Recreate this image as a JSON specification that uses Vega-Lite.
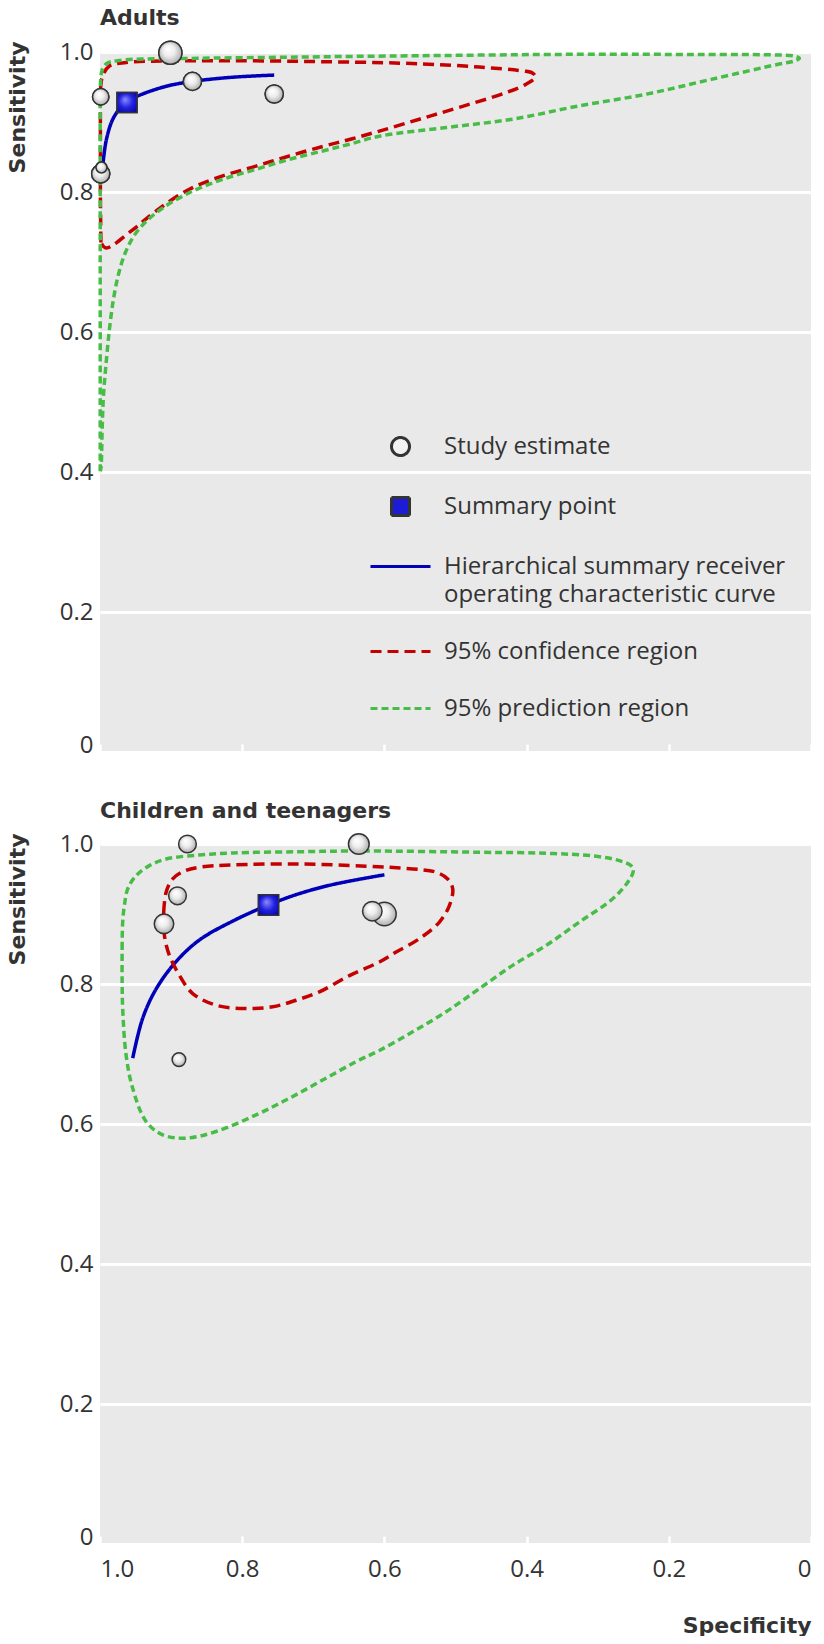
{
  "$schema": "https://vega.github.io/schema/vega-lite/v6.json",
  "background": "white",
  "padding": {"left": 6, "top": 7, "right": 0, "bottom": 0},
  "spacing": 42,
  "config": {
    "view": {"stroke": null, "fill": "#e9e9e9"},
    "font": "Open Sans",
    "style": {"guide-label": {"lineHeight": 28}},
    "axis": {"labelFont": "Open Sans", "labelFontSize": 24, "labelColor": "#333333", "titleFont": "DejaVu Sans", "titleFontSize": 22, "titleFontWeight": "bold", "titleColor": "#333333", "domain": false},
    "title": {"font": "DejaVu Sans", "fontSize": 22, "fontWeight": "bold", "color": "#333333", "anchor": "start", "frame": "group", "offset": 8}
  },
  "resolve": {
    "scale": {"stroke": "independent", "shape": "independent", "strokeDash": "independent", "fill": "independent", "size": "independent"},
    "legend": {"stroke": "independent", "shape": "independent", "strokeDash": "independent", "fill": "independent", "size": "independent"}
  },
  "datasets": {
    "points": [
      {"panel": "Adults", "series": "Study estimate", "spec": 0.901, "sens": 0.999, "weight": 161},
      {"panel": "Adults", "series": "Study estimate", "spec": 0.870, "sens": 0.958, "weight": 100},
      {"panel": "Adults", "series": "Study estimate", "spec": 0.755, "sens": 0.940, "weight": 100},
      {"panel": "Adults", "series": "Study estimate", "spec": 0.999, "sens": 0.936, "weight": 81},
      {"panel": "Adults", "series": "Study estimate", "spec": 0.999, "sens": 0.826, "weight": 100},
      {"panel": "Adults", "series": "Study estimate", "spec": 0.998, "sens": 0.835, "weight": 36},
      {"panel": "Children", "series": "Study estimate", "spec": 0.877, "sens": 1.0, "weight": 100},
      {"panel": "Children", "series": "Study estimate", "spec": 0.636, "sens": 1.0, "weight": 137},
      {"panel": "Children", "series": "Study estimate", "spec": 0.891, "sens": 0.926, "weight": 100},
      {"panel": "Children", "series": "Study estimate", "spec": 0.910, "sens": 0.886, "weight": 121},
      {"panel": "Children", "series": "Study estimate", "spec": 0.600, "sens": 0.900, "weight": 177},
      {"panel": "Children", "series": "Study estimate", "spec": 0.617, "sens": 0.904, "weight": 121},
      {"panel": "Children", "series": "Study estimate", "spec": 0.889, "sens": 0.692, "weight": 59}
    ],
    "summary": [
      {"panel": "Adults", "series": "Summary point", "spec": 0.962, "sens": 0.928},
      {"panel": "Children", "series": "Summary point", "spec": 0.763, "sens": 0.913}
    ],
    "curves": [
      {"panel": "Adults", "series": "Hierarchical summary receiver operating characteristic curve", "i": 0, "spec": 0.996, "sens": 0.839},
      {"panel": "Adults", "series": "Hierarchical summary receiver operating characteristic curve", "i": 1, "spec": 0.991, "sens": 0.875},
      {"panel": "Adults", "series": "Hierarchical summary receiver operating characteristic curve", "i": 2, "spec": 0.982, "sens": 0.904},
      {"panel": "Adults", "series": "Hierarchical summary receiver operating characteristic curve", "i": 3, "spec": 0.970, "sens": 0.922},
      {"panel": "Adults", "series": "Hierarchical summary receiver operating characteristic curve", "i": 4, "spec": 0.962, "sens": 0.929},
      {"panel": "Adults", "series": "Hierarchical summary receiver operating characteristic curve", "i": 5, "spec": 0.945, "sens": 0.938},
      {"panel": "Adults", "series": "Hierarchical summary receiver operating characteristic curve", "i": 6, "spec": 0.907, "sens": 0.951},
      {"panel": "Adults", "series": "Hierarchical summary receiver operating characteristic curve", "i": 7, "spec": 0.870, "sens": 0.958},
      {"panel": "Adults", "series": "Hierarchical summary receiver operating characteristic curve", "i": 8, "spec": 0.813, "sens": 0.964},
      {"panel": "Adults", "series": "Hierarchical summary receiver operating characteristic curve", "i": 9, "spec": 0.755, "sens": 0.967},

      {"panel": "Adults", "series": "95% confidence region", "i": 0, "spec": 0.9987, "sens": 0.728},
      {"panel": "Adults", "series": "95% confidence region", "i": 1, "spec": 0.9994, "sens": 0.789},
      {"panel": "Adults", "series": "95% confidence region", "i": 2, "spec": 0.9994, "sens": 0.861},
      {"panel": "Adults", "series": "95% confidence region", "i": 3, "spec": 0.9994, "sens": 0.918},
      {"panel": "Adults", "series": "95% confidence region", "i": 4, "spec": 0.9987, "sens": 0.954},
      {"panel": "Adults", "series": "95% confidence region", "i": 5, "spec": 0.9962, "sens": 0.966},
      {"panel": "Adults", "series": "95% confidence region", "i": 6, "spec": 0.9868, "sens": 0.980},
      {"panel": "Adults", "series": "95% confidence region", "i": 7, "spec": 0.9633, "sens": 0.985},
      {"panel": "Adults", "series": "95% confidence region", "i": 8, "spec": 0.8602, "sens": 0.9875},
      {"panel": "Adults", "series": "95% confidence region", "i": 9, "spec": 0.6731, "sens": 0.986},
      {"panel": "Adults", "series": "95% confidence region", "i": 10, "spec": 0.5466, "sens": 0.983},
      {"panel": "Adults", "series": "95% confidence region", "i": 11, "spec": 0.4664, "sens": 0.9785},
      {"panel": "Adults", "series": "95% confidence region", "i": 12, "spec": 0.4059, "sens": 0.973},
      {"panel": "Adults", "series": "95% confidence region", "i": 13, "spec": 0.3918, "sens": 0.970},
      {"panel": "Adults", "series": "95% confidence region", "i": 14, "spec": 0.3876, "sens": 0.964},
      {"panel": "Adults", "series": "95% confidence region", "i": 15, "spec": 0.4007, "sens": 0.954},
      {"panel": "Adults", "series": "95% confidence region", "i": 16, "spec": 0.4288, "sens": 0.942},
      {"panel": "Adults", "series": "95% confidence region", "i": 17, "spec": 0.4945, "sens": 0.921},
      {"panel": "Adults", "series": "95% confidence region", "i": 18, "spec": 0.5508, "sens": 0.904},
      {"panel": "Adults", "series": "95% confidence region", "i": 19, "spec": 0.6070, "sens": 0.887},
      {"panel": "Adults", "series": "95% confidence region", "i": 20, "spec": 0.6492, "sens": 0.875},
      {"panel": "Adults", "series": "95% confidence region", "i": 21, "spec": 0.6868, "sens": 0.865},
      {"panel": "Adults", "series": "95% confidence region", "i": 22, "spec": 0.7336, "sens": 0.8515},
      {"panel": "Adults", "series": "95% confidence region", "i": 23, "spec": 0.7805, "sens": 0.837},
      {"panel": "Adults", "series": "95% confidence region", "i": 24, "spec": 0.8274, "sens": 0.823},
      {"panel": "Adults", "series": "95% confidence region", "i": 25, "spec": 0.8743, "sens": 0.804},
      {"panel": "Adults", "series": "95% confidence region", "i": 26, "spec": 0.9211, "sens": 0.773},
      {"panel": "Adults", "series": "95% confidence region", "i": 27, "spec": 0.9540, "sens": 0.746},
      {"panel": "Adults", "series": "95% confidence region", "i": 28, "spec": 0.9914, "sens": 0.720},
      {"panel": "Adults", "series": "95% confidence region", "i": 29, "spec": 0.9987, "sens": 0.728},

      {"panel": "Adults", "series": "95% prediction region", "i": 0, "spec": 0.9997, "sens": 0.401},
      {"panel": "Adults", "series": "95% prediction region", "i": 1, "spec": 0.9997, "sens": 0.503},
      {"panel": "Adults", "series": "95% prediction region", "i": 2, "spec": 0.9997, "sens": 0.646},
      {"panel": "Adults", "series": "95% prediction region", "i": 3, "spec": 0.9997, "sens": 0.789},
      {"panel": "Adults", "series": "95% prediction region", "i": 4, "spec": 0.9997, "sens": 0.904},
      {"panel": "Adults", "series": "95% prediction region", "i": 5, "spec": 0.9994, "sens": 0.954},
      {"panel": "Adults", "series": "95% prediction region", "i": 6, "spec": 0.9973, "sens": 0.973},
      {"panel": "Adults", "series": "95% prediction region", "i": 7, "spec": 0.9914, "sens": 0.983},
      {"panel": "Adults", "series": "95% prediction region", "i": 8, "spec": 0.9727, "sens": 0.988},
      {"panel": "Adults", "series": "95% prediction region", "i": 9, "spec": 0.8789, "sens": 0.9907},
      {"panel": "Adults", "series": "95% prediction region", "i": 10, "spec": 0.7196, "sens": 0.9928},
      {"panel": "Adults", "series": "95% prediction region", "i": 11, "spec": 0.5509, "sens": 0.9947},
      {"panel": "Adults", "series": "95% prediction region", "i": 12, "spec": 0.3257, "sens": 0.9967},
      {"panel": "Adults", "series": "95% prediction region", "i": 13, "spec": 0.1570, "sens": 0.9964},
      {"panel": "Adults", "series": "95% prediction region", "i": 14, "spec": 0.0445, "sens": 0.9957},
      {"panel": "Adults", "series": "95% prediction region", "i": 15, "spec": 0.0234, "sens": 0.9943},
      {"panel": "Adults", "series": "95% prediction region", "i": 16, "spec": 0.0163, "sens": 0.991},
      {"panel": "Adults", "series": "95% prediction region", "i": 17, "spec": 0.0234, "sens": 0.9871},
      {"panel": "Adults", "series": "95% prediction region", "i": 18, "spec": 0.0445, "sens": 0.9828},
      {"panel": "Adults", "series": "95% prediction region", "i": 19, "spec": 0.1387, "sens": 0.9613},
      {"panel": "Adults", "series": "95% prediction region", "i": 20, "spec": 0.2315, "sens": 0.9398},
      {"panel": "Adults", "series": "95% prediction region", "i": 21, "spec": 0.3257, "sens": 0.9231},
      {"panel": "Adults", "series": "95% prediction region", "i": 22, "spec": 0.4200, "sens": 0.904},
      {"panel": "Adults", "series": "95% prediction region", "i": 23, "spec": 0.5128, "sens": 0.8921},
      {"panel": "Adults", "series": "95% prediction region", "i": 24, "spec": 0.6070, "sens": 0.8797},
      {"panel": "Adults", "series": "95% prediction region", "i": 25, "spec": 0.6492, "sens": 0.8682},
      {"panel": "Adults", "series": "95% prediction region", "i": 26, "spec": 0.6868, "sens": 0.8586},
      {"panel": "Adults", "series": "95% prediction region", "i": 27, "spec": 0.7336, "sens": 0.8467},
      {"panel": "Adults", "series": "95% prediction region", "i": 28, "spec": 0.7805, "sens": 0.8324},
      {"panel": "Adults", "series": "95% prediction region", "i": 29, "spec": 0.8274, "sens": 0.8181},
      {"panel": "Adults", "series": "95% prediction region", "i": 30, "spec": 0.8743, "sens": 0.799},
      {"panel": "Adults", "series": "95% prediction region", "i": 31, "spec": 0.9211, "sens": 0.7703},
      {"panel": "Adults", "series": "95% prediction region", "i": 32, "spec": 0.9492, "sens": 0.7417},
      {"panel": "Adults", "series": "95% prediction region", "i": 33, "spec": 0.9643, "sens": 0.7135},
      {"panel": "Adults", "series": "95% prediction region", "i": 34, "spec": 0.9741, "sens": 0.6819},
      {"panel": "Adults", "series": "95% prediction region", "i": 35, "spec": 0.9812, "sens": 0.6461},
      {"panel": "Adults", "series": "95% prediction region", "i": 36, "spec": 0.9868, "sens": 0.6032},
      {"panel": "Adults", "series": "95% prediction region", "i": 37, "spec": 0.9914, "sens": 0.5554},
      {"panel": "Adults", "series": "95% prediction region", "i": 38, "spec": 0.9952, "sens": 0.5076},
      {"panel": "Adults", "series": "95% prediction region", "i": 39, "spec": 0.9970, "sens": 0.4599},
      {"panel": "Adults", "series": "95% prediction region", "i": 40, "spec": 0.9985, "sens": 0.4073},
      {"panel": "Adults", "series": "95% prediction region", "i": 41, "spec": 0.9997, "sens": 0.401},

      {"panel": "Children", "series": "Hierarchical summary receiver operating characteristic curve", "i": 0, "spec": 0.954, "sens": 0.694},
      {"panel": "Children", "series": "Hierarchical summary receiver operating characteristic curve", "i": 1, "spec": 0.940, "sens": 0.751},
      {"panel": "Children", "series": "Hierarchical summary receiver operating characteristic curve", "i": 2, "spec": 0.921, "sens": 0.793},
      {"panel": "Children", "series": "Hierarchical summary receiver operating characteristic curve", "i": 3, "spec": 0.893, "sens": 0.832},
      {"panel": "Children", "series": "Hierarchical summary receiver operating characteristic curve", "i": 4, "spec": 0.860, "sens": 0.863},
      {"panel": "Children", "series": "Hierarchical summary receiver operating characteristic curve", "i": 5, "spec": 0.813, "sens": 0.890},
      {"panel": "Children", "series": "Hierarchical summary receiver operating characteristic curve", "i": 6, "spec": 0.763, "sens": 0.913},
      {"panel": "Children", "series": "Hierarchical summary receiver operating characteristic curve", "i": 7, "spec": 0.720, "sens": 0.929},
      {"panel": "Children", "series": "Hierarchical summary receiver operating characteristic curve", "i": 8, "spec": 0.673, "sens": 0.942},
      {"panel": "Children", "series": "Hierarchical summary receiver operating characteristic curve", "i": 9, "spec": 0.600, "sens": 0.956},

      {"panel": "Children", "series": "95% confidence region", "i": 0, "spec": 0.9104, "sens": 0.9027},
      {"panel": "Children", "series": "95% confidence region", "i": 1, "spec": 0.9070, "sens": 0.9312},
      {"panel": "Children", "series": "95% confidence region", "i": 2, "spec": 0.8978, "sens": 0.9501},
      {"panel": "Children", "series": "95% confidence region", "i": 3, "spec": 0.8813, "sens": 0.9615},
      {"panel": "Children", "series": "95% confidence region", "i": 4, "spec": 0.8602, "sens": 0.9668},
      {"panel": "Children", "series": "95% confidence region", "i": 5, "spec": 0.8134, "sens": 0.9701},
      {"panel": "Children", "series": "95% confidence region", "i": 6, "spec": 0.7196, "sens": 0.9715},
      {"panel": "Children", "series": "95% confidence region", "i": 7, "spec": 0.6257, "sens": 0.9682},
      {"panel": "Children", "series": "95% confidence region", "i": 8, "spec": 0.5602, "sens": 0.9644},
      {"panel": "Children", "series": "95% confidence region", "i": 9, "spec": 0.5273, "sens": 0.9597},
      {"panel": "Children", "series": "95% confidence region", "i": 10, "spec": 0.5110, "sens": 0.9501},
      {"panel": "Children", "series": "95% confidence region", "i": 11, "spec": 0.5039, "sens": 0.9359},
      {"panel": "Children", "series": "95% confidence region", "i": 12, "spec": 0.5086, "sens": 0.9121},
      {"panel": "Children", "series": "95% confidence region", "i": 13, "spec": 0.5226, "sens": 0.8885},
      {"panel": "Children", "series": "95% confidence region", "i": 14, "spec": 0.5508, "sens": 0.8647},
      {"panel": "Children", "series": "95% confidence region", "i": 15, "spec": 0.5835, "sens": 0.8457},
      {"panel": "Children", "series": "95% confidence region", "i": 16, "spec": 0.6070, "sens": 0.8315},
      {"panel": "Children", "series": "95% confidence region", "i": 17, "spec": 0.6492, "sens": 0.8120},
      {"panel": "Children", "series": "95% confidence region", "i": 18, "spec": 0.6914, "sens": 0.7888},
      {"panel": "Children", "series": "95% confidence region", "i": 19, "spec": 0.7242, "sens": 0.7768},
      {"panel": "Children", "series": "95% confidence region", "i": 20, "spec": 0.7571, "sens": 0.7674},
      {"panel": "Children", "series": "95% confidence region", "i": 21, "spec": 0.7955, "sens": 0.7650},
      {"panel": "Children", "series": "95% confidence region", "i": 22, "spec": 0.8367, "sens": 0.7697},
      {"panel": "Children", "series": "95% confidence region", "i": 23, "spec": 0.8696, "sens": 0.7863},
      {"panel": "Children", "series": "95% confidence region", "i": 24, "spec": 0.8883, "sens": 0.8124},
      {"panel": "Children", "series": "95% confidence region", "i": 25, "spec": 0.9024, "sens": 0.8409},
      {"panel": "Children", "series": "95% confidence region", "i": 26, "spec": 0.9094, "sens": 0.8694},
      {"panel": "Children", "series": "95% confidence region", "i": 27, "spec": 0.9104, "sens": 0.9027},

      {"panel": "Children", "series": "95% prediction region", "i": 0, "spec": 0.9689, "sens": 0.8504},
      {"panel": "Children", "series": "95% prediction region", "i": 1, "spec": 0.9681, "sens": 0.8885},
      {"panel": "Children", "series": "95% prediction region", "i": 2, "spec": 0.9657, "sens": 0.9121},
      {"panel": "Children", "series": "95% prediction region", "i": 3, "spec": 0.9610, "sens": 0.9359},
      {"panel": "Children", "series": "95% prediction region", "i": 4, "spec": 0.9492, "sens": 0.9548},
      {"panel": "Children", "series": "95% prediction region", "i": 5, "spec": 0.9305, "sens": 0.9691},
      {"panel": "Children", "series": "95% prediction region", "i": 6, "spec": 0.9070, "sens": 0.9786},
      {"panel": "Children", "series": "95% prediction region", "i": 7, "spec": 0.8602, "sens": 0.9843},
      {"panel": "Children", "series": "95% prediction region", "i": 8, "spec": 0.8134, "sens": 0.9872},
      {"panel": "Children", "series": "95% prediction region", "i": 9, "spec": 0.7196, "sens": 0.9890},
      {"panel": "Children", "series": "95% prediction region", "i": 10, "spec": 0.6257, "sens": 0.9900},
      {"panel": "Children", "series": "95% prediction region", "i": 11, "spec": 0.4664, "sens": 0.9882},
      {"panel": "Children", "series": "95% prediction region", "i": 12, "spec": 0.3726, "sens": 0.9868},
      {"panel": "Children", "series": "95% prediction region", "i": 13, "spec": 0.3023, "sens": 0.9825},
      {"panel": "Children", "series": "95% prediction region", "i": 14, "spec": 0.2695, "sens": 0.9762},
      {"panel": "Children", "series": "95% prediction region", "i": 15, "spec": 0.2530, "sens": 0.9691},
      {"panel": "Children", "series": "95% prediction region", "i": 16, "spec": 0.2498, "sens": 0.9620},
      {"panel": "Children", "series": "95% prediction region", "i": 17, "spec": 0.2578, "sens": 0.9454},
      {"panel": "Children", "series": "95% prediction region", "i": 18, "spec": 0.2789, "sens": 0.9217},
      {"panel": "Children", "series": "95% prediction region", "i": 19, "spec": 0.3257, "sens": 0.8885},
      {"panel": "Children", "series": "95% prediction region", "i": 20, "spec": 0.3726, "sens": 0.8551},
      {"panel": "Children", "series": "95% prediction region", "i": 21, "spec": 0.4196, "sens": 0.8266},
      {"panel": "Children", "series": "95% prediction region", "i": 22, "spec": 0.4664, "sens": 0.7934},
      {"panel": "Children", "series": "95% prediction region", "i": 23, "spec": 0.5132, "sens": 0.7603},
      {"panel": "Children", "series": "95% prediction region", "i": 24, "spec": 0.5602, "sens": 0.7318},
      {"panel": "Children", "series": "95% prediction region", "i": 25, "spec": 0.6070, "sens": 0.7051},
      {"panel": "Children", "series": "95% prediction region", "i": 26, "spec": 0.6398, "sens": 0.6890},
      {"panel": "Children", "series": "95% prediction region", "i": 27, "spec": 0.6868, "sens": 0.6628},
      {"panel": "Children", "series": "95% prediction region", "i": 28, "spec": 0.7336, "sens": 0.6368},
      {"panel": "Children", "series": "95% prediction region", "i": 29, "spec": 0.7805, "sens": 0.6130},
      {"panel": "Children", "series": "95% prediction region", "i": 30, "spec": 0.8367, "sens": 0.5893},
      {"panel": "Children", "series": "95% prediction region", "i": 31, "spec": 0.8789, "sens": 0.5798},
      {"panel": "Children", "series": "95% prediction region", "i": 32, "spec": 0.9118, "sens": 0.5845},
      {"panel": "Children", "series": "95% prediction region", "i": 33, "spec": 0.9352, "sens": 0.6036},
      {"panel": "Children", "series": "95% prediction region", "i": 34, "spec": 0.9540, "sens": 0.6510},
      {"panel": "Children", "series": "95% prediction region", "i": 35, "spec": 0.9633, "sens": 0.6984},
      {"panel": "Children", "series": "95% prediction region", "i": 36, "spec": 0.9681, "sens": 0.7650},
      {"panel": "Children", "series": "95% prediction region", "i": 37, "spec": 0.9689, "sens": 0.8077},
      {"panel": "Children", "series": "95% prediction region", "i": 38, "spec": 0.9689, "sens": 0.8504}
    ]
  },
  "vconcat": [
    {
      "width": 711,
      "height": 700,
      "title": {"text": "Adults"},
      "layer": [
        {
          "data": {"name": "curves"},
          "transform": [{"filter": "datum.panel === 'Adults'"}],
          "mark": {"type": "line", "strokeCap": "butt", "interpolate": "catmull-rom", "strokeWidth": 3.5},
          "encoding": {
            "x": {"field": "spec", "type": "quantitative", "scale": {"domain": [1, 0], "nice": false},
              "axis": {"values": [0, 0.2, 0.4, 0.6, 0.8, 1], "labels": false, "title": null, "grid": false, "ticks": true, "tickSize": -8, "tickColor": "white", "tickWidth": 2.5}},
            "y": {"field": "sens", "type": "quantitative", "scale": {"domain": [0, 1], "nice": false},
              "axis": {"values": [0, 0.2, 0.4, 0.6, 0.8, 1], "labelExpr": "datum.value === 0 ? '0' : format(datum.value, '.1f')", "labelBaseline": {"condition": {"test": "datum.value === 0", "value": "alphabetic"}, "value": "middle"}, "grid": true, "gridColor": "white", "gridWidth": 3, "ticks": false, "labelPadding": 7, "title": "Sensitivity", "titleAnchor": "end", "titleY": -11, "titlePadding": 30}},
            "order": {"field": "i", "type": "quantitative"},
            "stroke": {"field": "series", "type": "nominal",
              "scale": {"domain": ["Study estimate", "Summary point", "Hierarchical summary receiver operating characteristic curve", "95% confidence region", "95% prediction region"], "range": ["#333333", "#333333", "#0000b8", "#c40000", "#47bd47"]},
              "legend": {
                "title": null, "orient": "none", "legendX": 269, "legendY": 363, "direction": "vertical", "padding": 0,
                "symbolSize": 3600, "symbolOpacity": 1, "symbolStrokeWidth": 3, "labelFont": "Open Sans", "labelFontSize": 24, "labelColor": "#333333", "labelLimit": 500, "labelOffset": 12, "rowPadding": 13,
                "labelExpr": "datum.label === 'Hierarchical summary receiver operating characteristic curve' ? ['Hierarchical summary receiver', 'operating characteristic curve'] : datum.label"
              }},
            "strokeDash": {"field": "series", "type": "nominal",
              "scale": {"domain": ["Study estimate", "Summary point", "Hierarchical summary receiver operating characteristic curve", "95% confidence region", "95% prediction region"], "range": [[1, 0], [1, 0], [1, 0], [11, 6], [7, 4]]}}
          }
        },
        {
          "data": {"name": "points"},
          "transform": [{"filter": "datum.panel === 'Adults'"}],
          "mark": {"type": "point", "filled": true, "opacity": 1, "strokeWidth": 1.5},
          "encoding": {
            "x": {"field": "spec", "type": "quantitative"},
            "y": {"field": "sens", "type": "quantitative"},
            "size": {"field": "weight", "type": "quantitative", "scale": {"domain": [0, 200], "range": [0, 7346]}, "legend": null},
            "fill": {"field": "series", "type": "nominal",
              "scale": {"domain": ["Study estimate", "Summary point", "Hierarchical summary receiver operating characteristic curve", "95% confidence region", "95% prediction region"], "range": ["#f2f2f2", "#1c1cd6", "transparent", "transparent", "transparent"]}},
            "shape": {"field": "series", "type": "nominal",
              "scale": {"domain": ["Study estimate", "Summary point", "Hierarchical summary receiver operating characteristic curve", "95% confidence region", "95% prediction region"], "range": ["M0.3,0A0.3,0.3,0,1,1,-0.3,0A0.3,0.3,0,1,1,0.3,0Z", "M-0.3,-0.3H0.3V0.3H-0.3Z", "M-1,0H1", "M-1,0H1", "M-1,0H1"]}},
            "stroke": {"field": "series", "type": "nominal"}
          }
        },
        {
          "data": {"name": "points"},
          "transform": [{"filter": "datum.panel === 'Adults'"}],
          "mark": {"type": "point", "filled": true, "opacity": 1, "shape": "M0.3,0A0.3,0.3,0,1,1,-0.3,0A0.3,0.3,0,1,1,0.3,0Z", "stroke": "#333333", "strokeWidth": 1.5,
            "fill": {"gradient": "radial", "x1": 0.38, "y1": 0.32, "r1": 0.02, "x2": 0.5, "y2": 0.5, "r2": 0.55, "stops": [{"offset": 0, "color": "#ffffff"}, {"offset": 0.45, "color": "#ededed"}, {"offset": 1, "color": "#a6a6a6"}]}},
          "encoding": {
            "x": {"field": "spec", "type": "quantitative"},
            "y": {"field": "sens", "type": "quantitative"},
            "size": {"field": "weight", "type": "quantitative", "legend": null}
          }
        },
        {
          "data": {"name": "summary"},
          "transform": [{"filter": "datum.panel === 'Adults'"}],
          "mark": {"type": "point", "filled": true, "opacity": 1, "size": 4444, "strokeWidth": 1.5},
          "encoding": {
            "x": {"field": "spec", "type": "quantitative"},
            "y": {"field": "sens", "type": "quantitative"},
            "fill": {"field": "series", "type": "nominal"},
            "shape": {"field": "series", "type": "nominal"},
            "stroke": {"field": "series", "type": "nominal"}
          }
        },
        {
          "data": {"name": "summary"},
          "transform": [{"filter": "datum.panel === 'Adults'"}],
          "mark": {"type": "point", "filled": true, "opacity": 1, "size": 4444, "shape": "M-0.3,-0.3H0.3V0.3H-0.3Z", "stroke": "#333333", "strokeWidth": 1.5,
            "fill": {"gradient": "radial", "x1": 0.4, "y1": 0.35, "r1": 0, "x2": 0.5, "y2": 0.5, "r2": 0.7, "stops": [{"offset": 0, "color": "#8c8cff"}, {"offset": 0.5, "color": "#2222e0"}, {"offset": 1, "color": "#0000a0"}]}},
          "encoding": {
            "x": {"field": "spec", "type": "quantitative"},
            "y": {"field": "sens", "type": "quantitative"}
          }
        }
      ]
    },
    {
      "width": 711,
      "height": 700,
      "title": {"text": "Children and teenagers"},
      "layer": [
        {
          "data": {"name": "curves"},
          "transform": [{"filter": "datum.panel === 'Children'"}],
          "mark": {"type": "line", "strokeCap": "butt", "interpolate": "catmull-rom", "strokeWidth": 3.5},
          "encoding": {
            "x": {"field": "spec", "type": "quantitative", "scale": {"domain": [1, 0], "nice": false},
              "axis": {"values": [0, 0.2, 0.4, 0.6, 0.8, 1], "labelExpr": "datum.value === 0 ? '0' : format(datum.value, '.1f')", "grid": false, "ticks": true, "tickSize": -8, "tickColor": "white", "tickWidth": 2.5, "labelPadding": 21, "title": "Specificity", "titleAnchor": "end", "titlePadding": 34}},
            "y": {"field": "sens", "type": "quantitative", "scale": {"domain": [0, 1], "nice": false},
              "axis": {"values": [0, 0.2, 0.4, 0.6, 0.8, 1], "labelExpr": "datum.value === 0 ? '0' : format(datum.value, '.1f')", "labelBaseline": {"condition": {"test": "datum.value === 0", "value": "alphabetic"}, "value": "middle"}, "grid": true, "gridColor": "white", "gridWidth": 3, "ticks": false, "labelPadding": 7, "title": "Sensitivity", "titleAnchor": "end", "titleY": -11, "titlePadding": 30}},
            "order": {"field": "i", "type": "quantitative"},
            "stroke": {"field": "series", "type": "nominal",
              "scale": {"domain": ["Study estimate", "Summary point", "Hierarchical summary receiver operating characteristic curve", "95% confidence region", "95% prediction region"], "range": ["#333333", "#333333", "#0000b8", "#c40000", "#47bd47"]},
              "legend": null},
            "strokeDash": {"field": "series", "type": "nominal",
              "scale": {"domain": ["Study estimate", "Summary point", "Hierarchical summary receiver operating characteristic curve", "95% confidence region", "95% prediction region"], "range": [[1, 0], [1, 0], [1, 0], [11, 6], [7, 4]]},
              "legend": null}
          }
        },
        {
          "data": {"name": "points"},
          "transform": [{"filter": "datum.panel === 'Children'"}],
          "mark": {"type": "point", "filled": true, "opacity": 1, "shape": "circle", "strokeWidth": 1.5, "stroke": "#333333",
            "fill": {"gradient": "radial", "x1": 0.38, "y1": 0.32, "r1": 0.02, "x2": 0.5, "y2": 0.5, "r2": 0.55, "stops": [{"offset": 0, "color": "#ffffff"}, {"offset": 0.45, "color": "#ededed"}, {"offset": 1, "color": "#a6a6a6"}]}},
          "encoding": {
            "x": {"field": "spec", "type": "quantitative"},
            "y": {"field": "sens", "type": "quantitative"},
            "size": {"field": "weight", "type": "quantitative", "scale": {"domain": [0, 200], "range": [0, 628]}, "legend": null}
          }
        },
        {
          "data": {"name": "summary"},
          "transform": [{"filter": "datum.panel === 'Children'"}],
          "mark": {"type": "point", "filled": true, "opacity": 1, "shape": "square", "strokeWidth": 1.5, "stroke": "#333333", "size": 420,
            "fill": {"gradient": "radial", "x1": 0.4, "y1": 0.35, "r1": 0, "x2": 0.5, "y2": 0.5, "r2": 0.7, "stops": [{"offset": 0, "color": "#8c8cff"}, {"offset": 0.5, "color": "#2222e0"}, {"offset": 1, "color": "#0000a0"}]}},
          "encoding": {
            "x": {"field": "spec", "type": "quantitative"},
            "y": {"field": "sens", "type": "quantitative"}
          }
        }
      ]
    }
  ]
}
